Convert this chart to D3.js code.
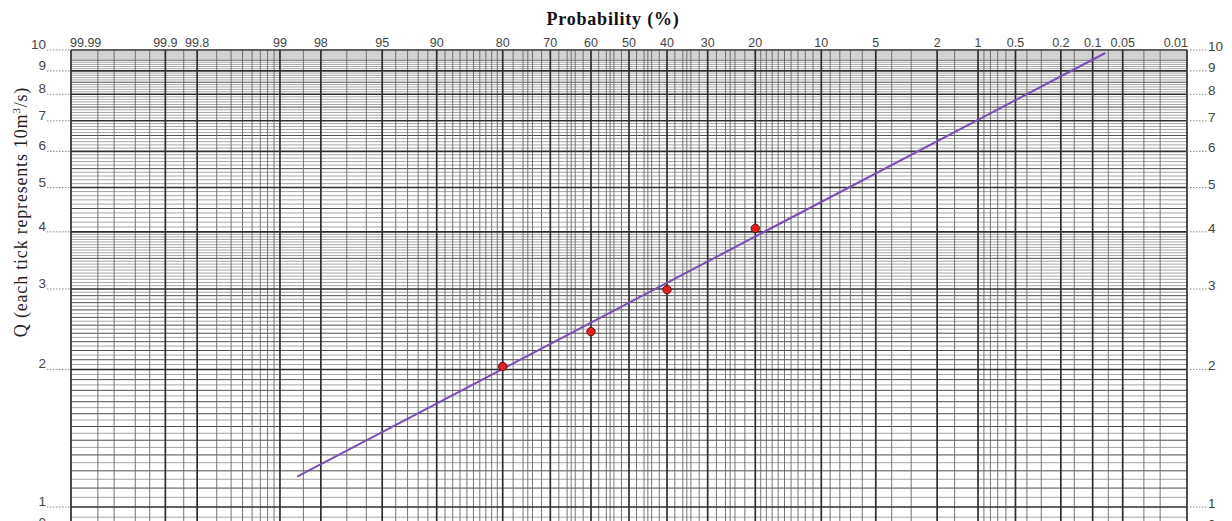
<!DOCTYPE html>
<html>
<head>
<meta charset="utf-8">
<title>Probability paper</title>
<script src="https://cdnjs.cloudflare.com/ajax/libs/d3/7.8.5/d3.min.js"></script>
<style>
  body { margin: 0; background: #fff; }
  svg { display: block; }
</style>
</head>
<body>
<div id="chart"></div>
<script>
// exceedance probabilities (%) shown on the top axis
const probLabels = [99.99, 99.9, 99.8, 99, 98, 95, 90, 80, 70, 60, 50, 40, 30, 20, 10, 5, 2, 1, 0.5, 0.2, 0.1, 0.05, 0.01];
// extra thin probability rulings
const probMinor = [99.98, 99.97, 99.95, 99.93, 99.85, 99.7, 99.6, 99.5, 99.4, 99.3, 99.2, 99.1, 98.5,
  97, 96, 94, 93, 92, 91, 89, 88, 87, 86, 85, 84, 83, 82, 81, 78, 76, 75, 74, 72, 68, 66, 65, 64, 62,
  58, 56, 55, 54, 52, 48, 46, 45, 44, 42, 38, 36, 35, 34, 32, 28, 26, 25, 24, 22, 19, 18, 17, 16, 15,
  14, 13, 12, 11, 9, 8, 7, 6, 4, 3, 1.5, 0.9, 0.8, 0.7, 0.6, 0.4, 0.3, 0.15, 0.07, 0.03, 0.02];
const qLabels = [1, 2, 3, 4, 5, 6, 7, 8, 9, 10, 0.9];

// observed points and fitted line
const obsProb = [80, 60, 40, 20];
const obsQ = [2.03, 2.42, 2.99, 4.07];
const fitProb = [98.65, 0.075];
const fitQ = [1.165, 9.85];

const width = 1232, height = 521;
const plotLeft = 71, plotRight = 1187, plotTop = 50;

// inverse normal CDF (Acklam)
function normInv(p) {
  const a = [-3.969683028665376e+01, 2.209460984245205e+02, -2.759285104469687e+02, 1.383577518672690e+02, -3.066479806614716e+01, 2.506628277459239e+00];
  const b = [-5.447609879822406e+01, 1.615858368580409e+02, -1.556989798598866e+02, 6.680131188771972e+01, -1.328068155288572e+01];
  const c = [-7.784894002430293e-03, -3.223964580411365e-01, -2.400758277161838e+00, -2.549732539343734e+00, 4.374664141464968e+00, 2.938163982698783e+00];
  const d = [7.784695709041462e-03, 3.224671290700398e-01, 2.445134137142996e+00, 3.754408661907416e+00];
  const pl = 0.02425;
  let q, r;
  if (p < pl) {
    q = Math.sqrt(-2 * Math.log(p));
    return (((((c[0]*q+c[1])*q+c[2])*q+c[3])*q+c[4])*q+c[5]) / ((((d[0]*q+d[1])*q+d[2])*q+d[3])*q+1);
  } else if (p <= 1 - pl) {
    q = p - 0.5; r = q * q;
    return (((((a[0]*r+a[1])*r+a[2])*r+a[3])*r+a[4])*r+a[5])*q / (((((b[0]*r+b[1])*r+b[2])*r+b[3])*r+b[4])*r+1);
  }
  q = Math.sqrt(-2 * Math.log(1 - p));
  return -(((((c[0]*q+c[1])*q+c[2])*q+c[3])*q+c[4])*q+c[5]) / ((((d[0]*q+d[1])*q+d[2])*q+d[3])*q+1);
}
const zOf = p => normInv(1 - p / 100);

const zx = d3.scaleLinear().domain([zOf(99.99), zOf(0.01)]).range([plotLeft, plotRight]);
const x = p => zx(zOf(p));
const y = d3.scaleLog().domain([1, 10]).range([507, plotTop]);
const plotBottom = y(0.9);

const svg = d3.select("#chart").append("svg")
  .attr("width", width).attr("height", height);

// horizontal rulings
const hFine = [], hMid = [];
for (let v = 0.9; v < 10.001; v += 0.05) {
  const r = Math.round(v * 100) / 100;
  if (Math.abs(r - Math.round(r)) < 1e-6) continue;
  const tenth = Math.abs(r * 10 - Math.round(r * 10)) < 1e-6;
  if (r < 4 || tenth) {
    if (tenth && (r < 3 || Math.abs(r * 2 - Math.round(r * 2)) < 1e-6)) hMid.push(r);
    else hFine.push(r);
  }
}
const hMajor = d3.range(1, 11);

const grid = svg.append("g");
grid.selectAll(".hf").data(hFine).join("line")
  .attr("x1", plotLeft).attr("x2", plotRight)
  .attr("y1", d => y(d)).attr("y2", d => y(d))
  .attr("stroke", "#8e8e8e").attr("stroke-width", 0.8);
grid.selectAll(".hm").data(hMid).join("line")
  .attr("x1", plotLeft).attr("x2", plotRight)
  .attr("y1", d => y(d)).attr("y2", d => y(d))
  .attr("stroke", "#4e4e4e").attr("stroke-width", 1);

// vertical rulings
grid.selectAll(".vm").data(probMinor).join("line")
  .attr("x1", d => x(d)).attr("x2", d => x(d))
  .attr("y1", plotTop).attr("y2", plotBottom)
  .attr("stroke", "#666").attr("stroke-width", 0.9);
grid.selectAll(".vM").data(probLabels).join("line")
  .attr("x1", d => x(d)).attr("x2", d => x(d))
  .attr("y1", plotTop).attr("y2", plotBottom)
  .attr("stroke", "#2e2e2e").attr("stroke-width", 1.7);
grid.selectAll(".hM").data(hMajor).join("line")
  .attr("x1", plotLeft).attr("x2", plotRight)
  .attr("y1", d => y(d)).attr("y2", d => y(d))
  .attr("stroke", "#2e2e2e").attr("stroke-width", 1.6);

// top probability labels
svg.append("g").selectAll("text").data(probLabels).join("text")
  .attr("x", d => d === 99.99 ? plotLeft - 1 : d === 0.01 ? plotRight + 1 : x(d))
  .attr("y", 47)
  .attr("text-anchor", d => d === 99.99 ? "start" : d === 0.01 ? "end" : "middle")
  .attr("font-family", "Liberation Sans, Arial, sans-serif")
  .attr("font-size", 12.5).attr("fill", "#444")
  .text(d => d);

// Q labels with dotted leaders on both sides
const yl = svg.append("g").attr("font-family", "Liberation Sans, Arial, sans-serif")
  .attr("font-size", 13.5).attr("fill", "#444");
qLabels.forEach(v => {
  const yy = y(v);
  const t = v === 0.9 ? "0" : String(v);
  yl.append("text").attr("x", 46).attr("y", yy - 1).attr("text-anchor", "end").text(t);
  yl.append("text").attr("x", 1208).attr("y", yy + 1).attr("text-anchor", "start").text(t);
  yl.append("line").attr("x1", 47).attr("x2", plotLeft).attr("y1", yy).attr("y2", yy)
    .attr("stroke", "#888").attr("stroke-dasharray", "1.5,1.5");
  yl.append("line").attr("x1", plotRight).attr("x2", 1207).attr("y1", yy).attr("y2", yy)
    .attr("stroke", "#888").attr("stroke-dasharray", "1.5,1.5");
});

// titles
svg.append("text").attr("x", 613).attr("y", 25).attr("text-anchor", "middle")
  .attr("font-family", "Liberation Serif, Times New Roman, serif")
  .attr("font-weight", "bold").attr("font-size", 18).attr("letter-spacing", 0.8).attr("fill", "#111")
  .text("Probability (%)");
const yt = svg.append("text").attr("transform", "translate(27,212) rotate(-90)")
  .attr("text-anchor", "middle")
  .attr("font-family", "Liberation Serif, Times New Roman, serif")
  .attr("font-size", 18).attr("letter-spacing", 0.8).attr("fill", "#222");
yt.append("tspan").text("Q (each tick represents 10m");
yt.append("tspan").attr("font-size", 11).attr("dy", -7).text("3");
yt.append("tspan").attr("dy", 7).text("/s)");

// fitted line
svg.append("line")
  .attr("x1", x(fitProb[0])).attr("y1", y(fitQ[0]))
  .attr("x2", x(fitProb[1])).attr("y2", y(fitQ[1]))
  .attr("stroke", "#7a4fb5").attr("stroke-width", 2);

// observations
svg.append("g").selectAll("circle").data(obsProb).join("circle")
  .attr("cx", d => x(d)).attr("cy", (d, i) => y(obsQ[i]))
  .attr("r", 4.2).attr("fill", "#e41e1e").attr("stroke", "#5a1010").attr("stroke-width", 1);
</script>
</body>
</html>
